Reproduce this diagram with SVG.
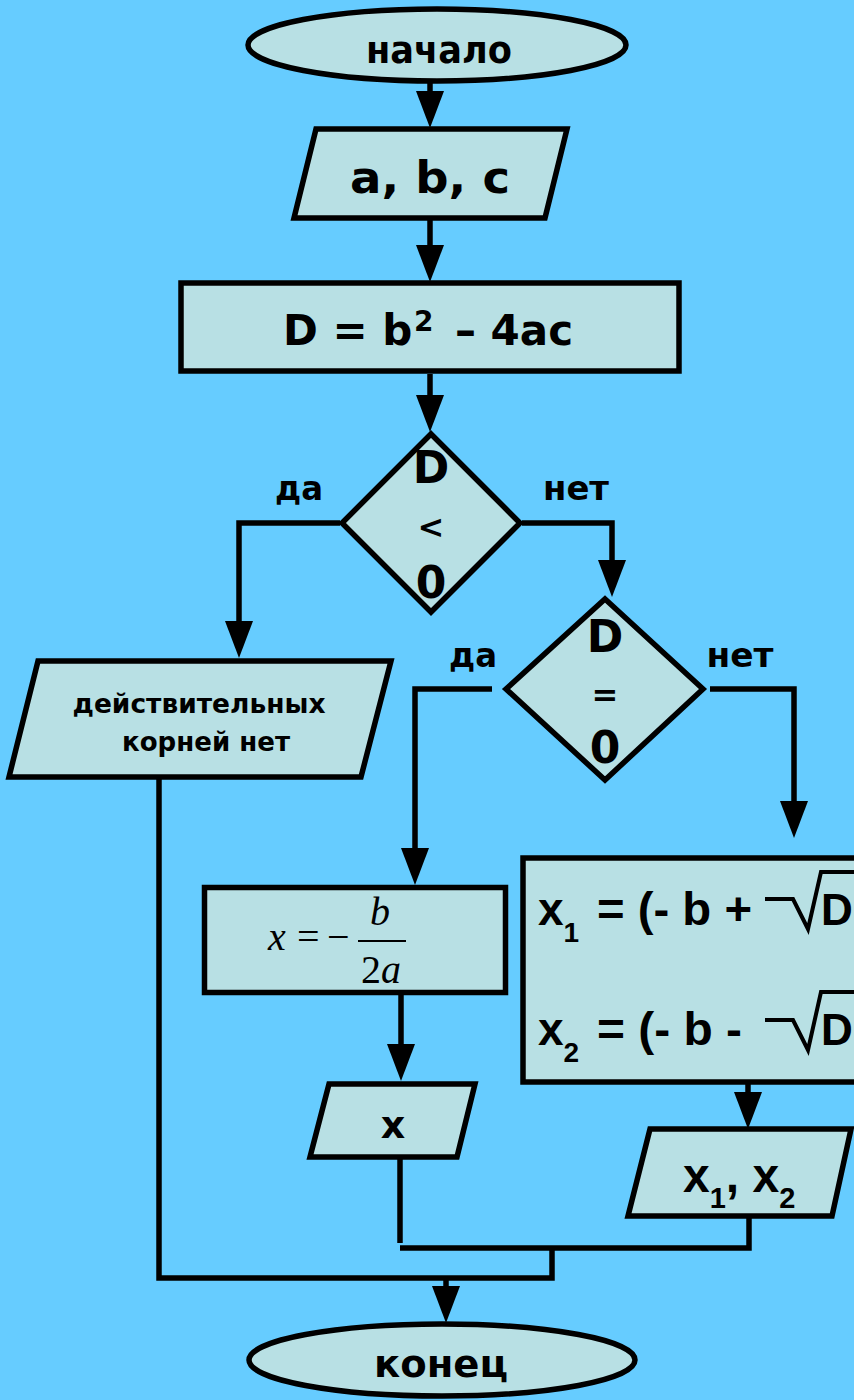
<svg xmlns="http://www.w3.org/2000/svg" width="854" height="1400" viewBox="0 0 854 1400">
<defs>
<style>
.bg{fill:#66CCFF}
.sh{fill:#B8E0E4;stroke:#000;stroke-width:5.5;stroke-linejoin:miter}
.cn{fill:none;stroke:#000;stroke-width:5.5;stroke-linejoin:miter}
.cm{font-family:"DejaVu Sans","Liberation Sans",sans-serif;font-weight:bold;fill:#000}
.ar{font-family:"Liberation Sans",Arial,sans-serif;font-weight:bold;fill:#000}
.tm{font-family:"Liberation Serif","Times New Roman",serif;fill:#000}
.rad{fill:none;stroke:#000;stroke-width:4;stroke-linejoin:miter}
</style>
<marker id="ah" viewBox="0 0 37 28" refX="0" refY="14" markerWidth="37" markerHeight="28" markerUnits="userSpaceOnUse" orient="auto">
<path d="M0,0 L37,14 L0,28 Z" fill="#000"/>
</marker>
</defs>
<rect class="bg" x="0" y="0" width="854" height="1400"/>

<g id="connectors">
<path class="cn" d="M430,82 V91" marker-end="url(#ah)"/>
<path class="cn" d="M430,220 V245" marker-end="url(#ah)"/>
<path class="cn" d="M430,374 V395" marker-end="url(#ah)"/>
<path class="cn" d="M340,523 H239 V621" marker-end="url(#ah)"/>
<path class="cn" d="M522,523 H612 V560" marker-end="url(#ah)"/>
<path class="cn" d="M492,689 H415 V848" marker-end="url(#ah)"/>
<path class="cn" d="M710,689 H794 V801" marker-end="url(#ah)"/>
<path class="cn" d="M401,995 V1044" marker-end="url(#ah)"/>
<path class="cn" d="M748,1083 V1092" marker-end="url(#ah)"/>
<path class="cn" d="M159,778 V1278 H552 V1248"/>
<path class="cn" d="M400,1157 V1243"/>
<path class="cn" d="M400,1248 H749 V1216"/>
<path class="cn" d="M446,1278 V1286" marker-end="url(#ah)"/>
</g>

<g id="start">
<ellipse class="sh" cx="437" cy="45" rx="189" ry="36"/>
<text class="cm" x="439" y="63" font-size="37" text-anchor="middle" textLength="146" lengthAdjust="spacingAndGlyphs">начало</text>
</g>

<g id="input">
<polygon class="sh" points="316,129 567,129 545,218 294,218"/>
<text class="cm" x="430" y="193" font-size="44" text-anchor="middle" textLength="160" lengthAdjust="spacingAndGlyphs">a, b, c</text>
</g>

<g id="discriminant">
<rect class="sh" x="181" y="283" width="498" height="88"/>
<text class="cm" x="283" y="345" font-size="42">D = b<tspan x="414" dy="-14" font-size="28">2</tspan><tspan x="455" dy="14">– 4ac</tspan></text>
</g>

<g id="cond1">
<polygon class="sh" points="431,434 520,523 431,612 342,523"/>
<text class="cm" x="431" y="483" font-size="44" text-anchor="middle">D</text>
<text class="cm" x="431" y="538" font-size="32" text-anchor="middle">&lt;</text>
<text class="cm" x="431" y="598" font-size="44" text-anchor="middle">0</text>
<text class="cm" x="299" y="500" font-size="34" text-anchor="middle" textLength="48" lengthAdjust="spacingAndGlyphs">да</text>
<text class="cm" x="576" y="500" font-size="34" text-anchor="middle" textLength="66" lengthAdjust="spacingAndGlyphs">нет</text>
</g>

<g id="noroots">
<polygon class="sh" points="38,661 391,661 361,777 9,777"/>
<text class="cm" x="199" y="713" font-size="27" text-anchor="middle" textLength="253" lengthAdjust="spacingAndGlyphs">действительных</text>
<text class="cm" x="206" y="751" font-size="27" text-anchor="middle" textLength="168" lengthAdjust="spacingAndGlyphs">корней нет</text>
</g>

<g id="cond2">
<polygon class="sh" points="605,599 703,689 605,780 506,689"/>
<text class="cm" x="605" y="652" font-size="44" text-anchor="middle">D</text>
<text class="cm" x="605" y="706" font-size="32" text-anchor="middle">=</text>
<text class="cm" x="605" y="763" font-size="44" text-anchor="middle">0</text>
<text class="cm" x="473" y="667" font-size="34" text-anchor="middle" textLength="48" lengthAdjust="spacingAndGlyphs">да</text>
<text class="cm" x="740" y="667" font-size="34" text-anchor="middle" textLength="67" lengthAdjust="spacingAndGlyphs">нет</text>
</g>

<g id="oneroot">
<rect class="sh" x="204.5" y="887.5" width="301" height="105"/>
<text class="tm" x="268" y="950" font-size="40" font-style="italic">x</text>
<text class="tm" x="297" y="950" font-size="40">=</text>
<text class="tm" x="327" y="950" font-size="40">−</text>
<text class="tm" x="370" y="925" font-size="40" font-style="italic">b</text>
<line x1="358" y1="941" x2="406" y2="941" stroke="#000" stroke-width="2"/>
<text class="tm" x="361" y="983" font-size="40">2<tspan font-style="italic">a</tspan></text>
</g>

<g id="outx">
<polygon class="sh" points="329,1084 475,1084 457,1157 310,1157"/>
<text class="cm" x="393" y="1138" font-size="38" text-anchor="middle">x</text>
</g>

<g id="tworoots">
<rect class="sh" x="523" y="858" width="345" height="224"/>
<text class="ar" x="538" y="925" font-size="46">x<tspan font-size="28" dy="17">1</tspan></text>
<text class="ar" x="597" y="925" font-size="46" textLength="155" lengthAdjust="spacingAndGlyphs">= (- b +</text>
<polyline class="rad" points="765,899 793,899 808,929 821,872 860,872"/>
<text class="ar" x="821" y="925" font-size="44">D</text>
<text class="ar" x="538" y="1045" font-size="46">x<tspan font-size="28" dy="17">2</tspan></text>
<text class="ar" x="597" y="1045" font-size="46" textLength="145" lengthAdjust="spacingAndGlyphs">= (- b -</text>
<polyline class="rad" points="765,1020 793,1020 808,1050 821,992 860,992"/>
<text class="ar" x="821" y="1045" font-size="44">D</text>
</g>

<g id="outx12">
<polygon class="sh" points="650,1129 851,1129 832,1216 628,1216"/>
<text class="ar" x="683" y="1192" font-size="48">x<tspan font-size="29" dy="16">1</tspan><tspan dy="-16">, x</tspan><tspan font-size="29" dy="16">2</tspan></text>
</g>

<g id="end">
<ellipse class="sh" cx="442" cy="1360" rx="193" ry="36"/>
<text class="cm" x="441" y="1377" font-size="37" text-anchor="middle" textLength="134" lengthAdjust="spacingAndGlyphs">конец</text>
</g>
</svg>
